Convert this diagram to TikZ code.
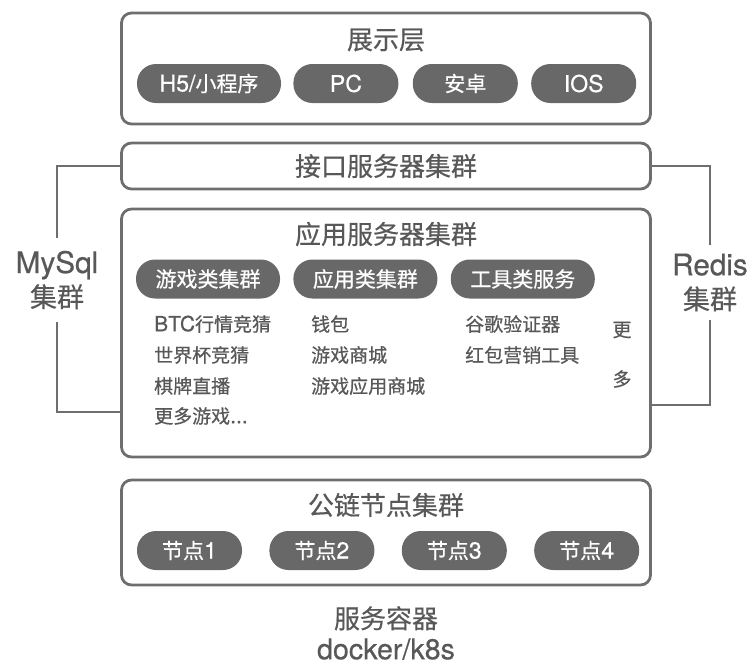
\documentclass[tikz,border=0pt]{standalone}
\usepackage{fontspec}
\setmainfont{Noto Sans CJK SC}[FakeBold=0.5]
\newfontfamily\lat[Scale=1.1,FakeBold=0.5]{TeX Gyre Heros}
\usetikzlibrary{positioning}
\definecolor{linegray}{HTML}{6E6E6E}
\definecolor{pillgray}{HTML}{686868}
\definecolor{textgray}{HTML}{585858}
\tikzset{
  layer/.style={draw=linegray, line width=2.8pt, rounded corners=10pt, minimum width=529pt, inner sep=0pt},
  pill/.style={fill=pillgray, text=white, rounded corners=19pt, minimum height=39pt, inner sep=0pt, font=\fontsize{21}{24}\selectfont},
  title/.style={text=textgray, align=center, font=\fontsize{26}{30}\selectfont},
  item/.style={text=textgray, anchor=west, inner sep=0pt, font=\fontsize{19}{22}\selectfont},
  side/.style={text=textgray, align=center, inner sep=0pt, font=\fontsize{27}{34}\selectfont},
  link/.style={draw=linegray, line width=2.8pt},
}

\begin{document}
\begin{tikzpicture}[x=1pt,y=-1pt]
\useasboundingbox (0,0) rectangle (754,664);
% layers
\node(show)  [layer, minimum height=111pt] at (386,68.5) {};
\node(api)   [layer, minimum height=46pt] at (386,166) {};
\node(app)   [layer, minimum height=248pt] at (386,333) {};
\node(chain) [layer, minimum height=105pt] at (386,532.5) {};
\node(showTitle)  [title] at (386,40)  {展示层};
\node(apiTitle)   [title] at (386,166) {接口服务器集群};
\node(appTitle)   [title] at (386,234) {应用服务器集群};
\node(chainTitle) [title] at (386,505) {公链节点集群};
% clients
\node(h5)      [pill, minimum width=144pt] at (209,83.5) {{\lat H5/}小程序};
\node(pc)      [pill, minimum width=105pt, right=12pt of h5] {\lat PC};
\node(android) [pill, minimum width=105pt, right=14pt of pc] {安卓};
\node(ios)     [pill, minimum width=105pt, right=13pt of android] {\lat IOS};
% services
\node(game)  [pill, minimum width=144pt] at (208,279) {游戏类集群};
\node(apps)  [pill, minimum width=144pt, right=13pt of game] {应用类集群};
\node(tools) [pill, minimum width=144pt, right=13pt of apps] {工具类服务};
\node(btc)    [item] at (154,324) {{\lat BTC}行情竞猜};
\node(cup)    [item] at (154,355) {世界杯竞猜};
\node(chess)  [item] at (154,386) {棋牌直播};
\node(games)  [item] at (154,416) {更多游戏{\lat ...}};
\node(wallet) [item] at (311,324) {钱包};
\node(shop)   [item] at (311,355) {游戏商城};
\node(store)  [item] at (311,386) {游戏应用商城};
\node(gauth)  [item] at (465,324) {谷歌验证器};
\node(promo)  [item] at (465,355) {红包营销工具};
\node(more1)  [item, anchor=center] at (622,330) {更};
\node(more2)  [item, anchor=center] at (622,379) {多};
% chain nodes
\node(n1) [pill, minimum width=105pt] at (189.5,550.5) {节点{\lat 1}};
\node(n2) [pill, minimum width=105pt, right=27pt of n1] {节点{\lat 2}};
\node(n3) [pill, minimum width=105pt, right=27pt of n2] {节点{\lat 3}};
\node(n4) [pill, minimum width=105pt, right=27pt of n3] {节点{\lat 4}};
% storage
\node(mysql) [side, minimum height=84pt] at (57,280) {{\lat MySql}\\集群};
\node(redis) [side, minimum height=75pt] at (710,282.5) {{\lat Redis}\\集群};
\coordinate(mysqlEnd) at (121,412);
\coordinate(redisEnd) at (652,405);
\draw[link] (api.west) -| (mysql.north);
\draw[link] (mysql.south) |- (mysqlEnd);
\draw[link] (api.east) -| (redis.north);
\draw[link] (redis.south) |- (redisEnd);
\node(container) [title, inner sep=0pt, font=\fontsize{26}{31}\selectfont] at (386,633) {服务容器\\{\lat docker/k8s}};
\end{tikzpicture}
\end{document}
